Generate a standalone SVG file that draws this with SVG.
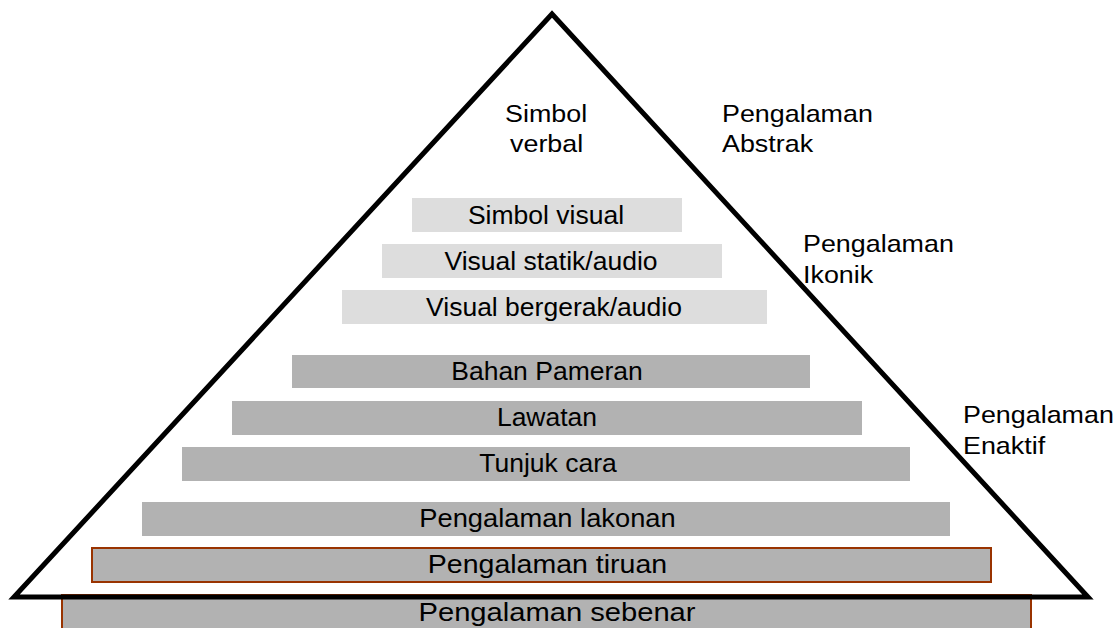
<svg xmlns="http://www.w3.org/2000/svg" width="1119" height="628" viewBox="0 0 1119 628">
<style>
text{font-family:"Liberation Sans",Arial,sans-serif;font-size:24px;fill:#000}
.c{font-size:26.5px;text-anchor:middle}
.l{fill:#dddddd}
.d{fill:#b2b2b2}
.b{fill:#b2b2b2;stroke:#993300;stroke-width:2}
</style>
<rect width="1119" height="628" fill="#fff"/>
<g id="n-sebenar"><rect class="b" x="62" y="595" width="969" height="40"/><text class="c" transform="translate(557,621) scale(1.1,1)">Pengalaman sebenar</text></g>
<g id="connectors"><path d="M552,14 L14,597 L1088,597 Z" fill="none" stroke="#000" stroke-width="5" stroke-linejoin="miter"/></g>
<g id="n-simbol-verbal"><text transform="translate(505,122) scale(1.12,1)">Simbol</text><text transform="translate(510,152) scale(1.12,1)">verbal</text></g>
<g id="n-abstrak"><text transform="translate(722,122) scale(1.12,1)">Pengalaman</text><text transform="translate(722,152) scale(1.12,1)">Abstrak</text></g>
<g id="n-ikonik"><text transform="translate(803,252) scale(1.12,1)">Pengalaman</text><text transform="translate(803,283) scale(1.12,1)">Ikonik</text></g>
<g id="n-enaktif"><text transform="translate(963,423) scale(1.12,1)">Pengalaman</text><text transform="translate(963,454) scale(1.12,1)">Enaktif</text></g>
<g id="n-simbol-visual"><rect class="l" x="412" y="198" width="270" height="34"/><text class="c" x="546" y="224">Simbol visual</text></g>
<g id="n-visual-statik"><rect class="l" x="382" y="244" width="340" height="34"/><text class="c" x="551" y="270">Visual statik/audio</text></g>
<g id="n-visual-bergerak"><rect class="l" x="342" y="290" width="425" height="34"/><text class="c" x="554" y="316">Visual bergerak/audio</text></g>
<g id="n-bahan"><rect class="d" x="292" y="355" width="518" height="33"/><text class="c" x="547" y="380">Bahan Pameran</text></g>
<g id="n-lawatan"><rect class="d" x="232" y="401" width="630" height="34"/><text class="c" x="547" y="426">Lawatan</text></g>
<g id="n-tunjuk"><rect class="d" x="182" y="447" width="728" height="34"/><text class="c" x="548" y="472">Tunjuk cara</text></g>
<g id="n-lakonan"><rect class="d" x="142" y="502" width="808" height="34"/><text class="c" transform="translate(547.5,527) scale(1.03,1)">Pengalaman lakonan</text></g>
<g id="n-tiruan"><rect class="b" x="92" y="548" width="899" height="34"/><text class="c" transform="translate(547.5,573) scale(1.077,1)">Pengalaman tiruan</text></g>
</svg>
